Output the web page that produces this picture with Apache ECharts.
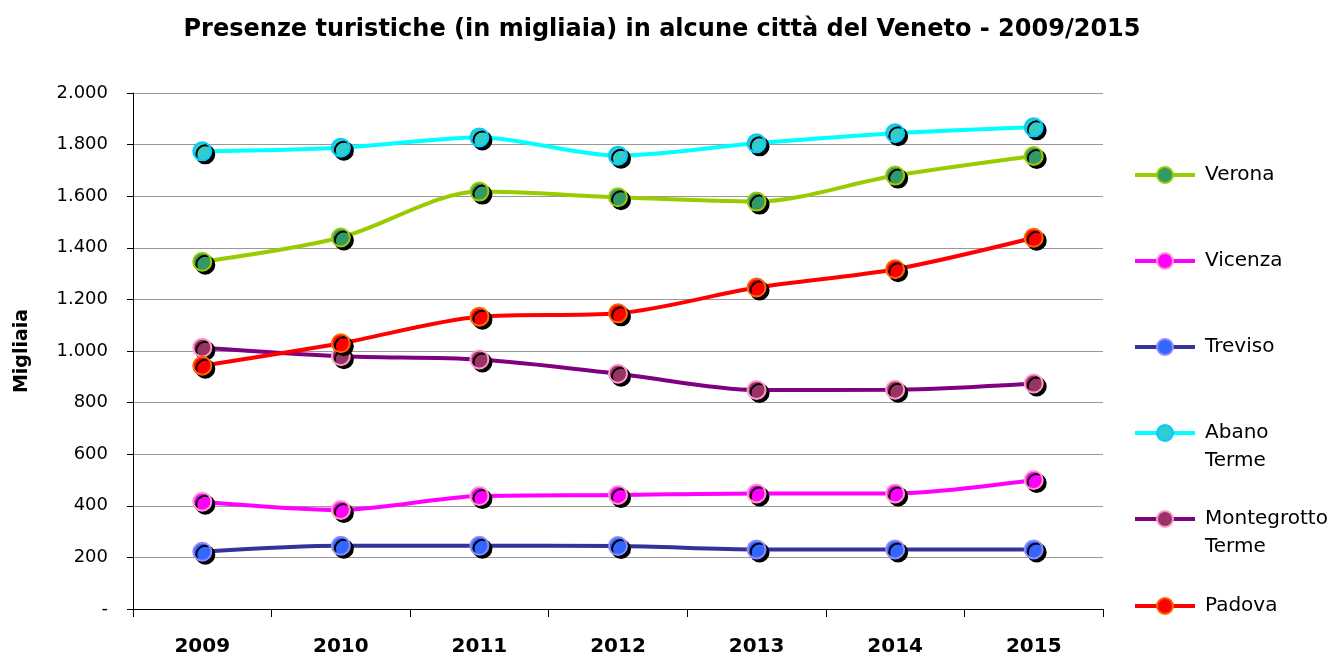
<!DOCTYPE html>
<html lang="it">
<head>
	<meta charset="UTF-8">
	<title>Presenze turistiche</title>
	<style>
		html, body { margin: 0; padding: 0; background: #fff; }
	</style>
</head>
<body>
	<div id="main" style="width: 1334px;height: 657px"></div>

	<script src="https://cdn.jsdelivr.net/npm/echarts@6/dist/echarts.min.js"></script>
	<script type="text/javascript">
	// dati (migliaia di presenze)
	var anni = ['2009', '2010', '2011', '2012', '2013', '2014', '2015'];
	var verona      = [1346, 1440, 1618, 1596, 1579, 1680, 1756];
	var vicenza     = [416, 384, 438, 442, 448, 448, 500];
	var treviso     = [222, 245, 245, 244, 231, 231, 231];
	var abanoTerme  = [1774, 1788, 1828, 1757, 1805, 1844, 1867];
	var montegrotto = [1013, 980, 967, 912, 849, 850, 874];
	var padova      = [943, 1030, 1133, 1146, 1246, 1317, 1439];

	var nomi = ['Verona', 'Vicenza', 'Treviso', 'Abano Terme', 'Montegrotto Terme', 'Padova'];
	var valori = [verona, vicenza, treviso, abanoTerme, montegrotto, padova];

	// colori: linea, riempimento marker, bordo marker
	var colLinea = ['#99CC00', '#FF00FF', '#333399', '#00FFFF', '#800080', '#FF0000'];
	var colMarker = ['#339966', '#FF00FF', '#3366FF', '#33CCCC', '#993366', '#FF0000'];
	var colBordo = ['#99CC00', '#FF99CC', '#8C8CFF', '#00CCFF', '#FF99CC', '#FF6600'];

	var font = '"DejaVu Sans", Verdana, sans-serif';

	var myChart = echarts.init(document.getElementById('main'));

	var series = [];
	for (var i = 0; i < nomi.length; i++) {
		series.push({
			name: nomi[i],
			type: 'line',
			data: valori[i],
			smooth: 0.3,
			symbol: 'circle',
			symbolSize: 18,
			lineStyle: { color: colLinea[i], width: 4 },
			itemStyle: {
				color: colMarker[i],
				borderColor: colBordo[i],
				borderWidth: 2,
				shadowColor: '#000',
				shadowBlur: 0,
				shadowOffsetX: 3,
				shadowOffsetY: 3
			},
			emphasis: { disabled: true },
			animation: false
		});
	}

	// una legenda per voce, per posizionarle come nell'originale
	var legendY = [175, 261, 347, 433, 519, 606];
	var legende = [];
	for (var j = 0; j < nomi.length; j++) {
		var multi = nomi[j].indexOf(' ') > 0;
		legende.push({
			data: [nomi[j]],
			left: 1133,
			top: multi ? legendY[j] - 42 : legendY[j] - 14,
			itemWidth: 60,
			itemHeight: 20,
			padding: 0,
			selectedMode: false,
			formatter: function (name) {
				if (name.indexOf(' ') > 0) {
					return ' \n' + name.replace(' ', '\n');
				}
				return name;
			},
			lineStyle: { width: 4 },
			itemStyle: { shadowColor: 'rgba(0,0,0,0)', shadowBlur: 0, shadowOffsetX: 0, shadowOffsetY: 0 },
			textStyle: { fontFamily: font, fontSize: 20, color: '#000', lineHeight: 28, padding: [0, 0, 0, 5] }
		});
	}

	var option = {
		backgroundColor: '#fff',
		animation: false,
		title: {
			text: 'Presenze turistiche (in migliaia) in alcune città del Veneto - 2009/2015',
			left: 657,
			textAlign: 'center',
			top: 13,
			textStyle: { fontFamily: font, fontSize: 24, fontWeight: 'bold', color: '#000' }
		},
		legend: legende,
		grid: { left: 133, right: 231, top: 93, bottom: 48, containLabel: false },
		xAxis: {
			type: 'category',
			data: anni,
			boundaryGap: true,
			axisLine: { lineStyle: { color: '#000', width: 1 } },
			axisTick: { show: true, length: 8, lineStyle: { color: '#000' } },
			axisLabel: { fontFamily: font, fontSize: 20, fontWeight: 'bold', color: '#000', margin: 28 },
			splitLine: { show: false }
		},
		yAxis: {
			type: 'value',
			min: 0,
			max: 2000,
			interval: 200,
			name: 'Migliaia',
			nameLocation: 'middle',
			nameRotate: 90,
			nameGap: 101,
			nameTextStyle: { fontFamily: font, fontSize: 19, fontWeight: 'bold', color: '#000' },
			axisLine: { show: true, lineStyle: { color: '#000', width: 1 } },
			axisTick: { show: true, length: 6, lineStyle: { color: '#000' } },
			axisLabel: {
				fontFamily: font, fontSize: 18, color: '#000', margin: 25,
				formatter: function (v) {
					if (v === 0) return '-';
					var s = String(v);
					if (v >= 1000) s = s.slice(0, s.length - 3) + '.' + s.slice(-3);
					return s;
				}
			},
			splitLine: { show: true, lineStyle: { color: '#999', width: 1 } }
		},
		series: series
	};

	myChart.setOption(option);
	</script>
</body>
</html>
